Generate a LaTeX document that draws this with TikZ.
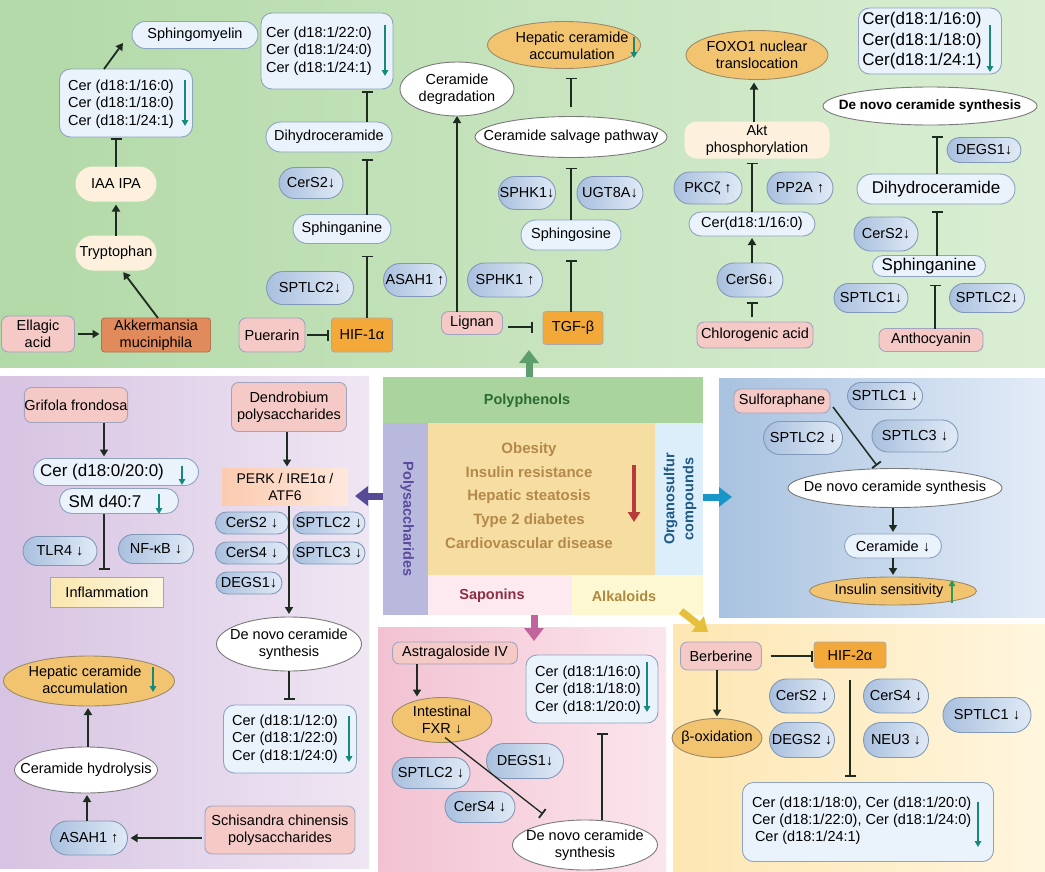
\documentclass[tikz,border=0pt]{standalone}
\usepackage{fontspec}
\setmainfont{Liberation Sans}
\usetikzlibrary{arrows.meta,shapes.misc,shapes.geometric,calc}
\newcommand{\fsn}{\fontsize{14.5}{17.5}\selectfont}
\newcommand{\fst}{\fontsize{14.5}{16.5}\selectfont}
\newcommand{\fsl}{\fontsize{17}{20.5}\selectfont}
\newcommand{\fsbd}{\bfseries\fontsize{14.5}{17.5}\selectfont}
\definecolor{lc}{HTML}{1E2B20}
\definecolor{gL}{HTML}{B2D9A7}\definecolor{gR}{HTML}{DAEED3}
\definecolor{puL}{HTML}{D7C3E2}\definecolor{puR}{HTML}{EFE6F3}
\definecolor{blL}{HTML}{A8C2DF}\definecolor{blR}{HTML}{E3ECF8}
\definecolor{pkL}{HTML}{F2C2D2}\definecolor{pkR}{HTML}{FBE5ED}
\definecolor{yeL}{HTML}{FDE6B2}\definecolor{yeR}{HTML}{FFF6DE}
\definecolor{lboxc}{HTML}{EAF2FB}\definecolor{bordc}{HTML}{8DA3C1}
\definecolor{enzl}{HTML}{A9C0DE}\definecolor{enzr}{HTML}{E0EAF6}\definecolor{enzd}{HTML}{8298B8}
\definecolor{srcc}{HTML}{F4C9C6}\definecolor{srcd}{HTML}{A2A4BF}
\definecolor{oellc}{HTML}{F3C46F}\definecolor{oelld}{HTML}{9C8B6B}
\definecolor{wd}{HTML}{7A7A7A}
\definecolor{orc}{HTML}{F2A93A}\definecolor{ord}{HTML}{A9A9A9}
\definecolor{akkc}{HTML}{E18A5C}\definecolor{akkd}{HTML}{B27254}
\definecolor{creamc}{HTML}{FDF1DE}
\definecolor{tealc}{HTML}{17897B}
\definecolor{pphc}{HTML}{A9D49D}\definecolor{pphT}{HTML}{2D6B34}
\definecolor{psac}{HTML}{B9B9DE}\definecolor{psaT}{HTML}{5A4B9C}
\definecolor{disc}{HTML}{F6DEA3}\definecolor{disT}{HTML}{B5884B}
\definecolor{oscc}{HTML}{DCEEFA}\definecolor{oscT}{HTML}{1E5A85}
\definecolor{sapc}{HTML}{FDE9F0}\definecolor{sapT}{HTML}{8C2F42}
\definecolor{alkc}{HTML}{FDF8D2}\definecolor{alkT}{HTML}{AD8A3E}
\definecolor{redc}{HTML}{B83A3A}
\definecolor{gA}{HTML}{5E9E6E}\definecolor{puA}{HTML}{574A96}
\definecolor{blA}{HTML}{1996C8}\definecolor{pkA}{HTML}{C2649C}
\definecolor{yeA}{HTML}{E6BF3C}
\definecolor{inflL}{HTML}{FBE7AE}\definecolor{inflR}{HTML}{FDF7E0}
\definecolor{perkL}{HTML}{FBCBB0}\definecolor{perkR}{HTML}{FDE8DC}
\definecolor{upg}{HTML}{2A9A5A}
\begin{document}
\begin{tikzpicture}[x=1pt,y=-1pt,
  base/.style={inner sep=0pt,outer sep=0pt,align=center,font=\fsn,text=black},
  sz/.style 2 args={minimum width=#1pt,minimum height=#2pt},
  lbox/.style={base,rectangle,rounded corners=11pt,draw=bordc,fill=lboxc,line width=0.9pt},
  lpill/.style={base,rounded rectangle,draw=bordc,fill=lboxc,line width=0.9pt},
  enz/.style={base,rounded rectangle,draw=enzd,left color=enzl,right color=enzr,line width=0.9pt},
  src/.style={base,rectangle,rounded corners=7pt,draw=srcd,fill=srcc,line width=0.9pt},
  oell/.style={base,ellipse,draw=oelld,fill=oellc,line width=0.9pt},
  well/.style={base,ellipse,draw=wd,fill=white,line width=0.9pt},
  orect/.style={base,rectangle,rounded corners=3pt,draw=ord,fill=orc,line width=0.9pt},
  creamp/.style={base,rounded rectangle,fill=creamc},
  compart/.style={base,rectangle,draw=none},
  arr/.style={draw=lc,line width=1.8pt,-{Triangle[width=8pt,length=7pt]}},
  inh/.style={draw=lc,line width=1.8pt,-{Bar[width=11pt,line width=1.8pt]}},
  tarr/.style={draw=tealc,line width=1.6pt,-{Triangle[width=6.5pt,length=6pt]}},
  big/.style={line width=7pt,-{Triangle[width=19pt,length=13pt]}},
  ctext/.style={base,font=\fsbd},
]
\useasboundingbox (0,0) rectangle (1045,871);
\fill[white] (0,0) rectangle (1045,871);

% ---------- panels ----------
\fill[left color=gL,right color=gR] (0,0) rectangle (1045,367);
\fill[left color=puL,right color=puR] (0,376) rectangle (369,868);
\fill[left color=blL,right color=blR] (719,378) rectangle (1045,617);
\fill[left color=pkL,right color=pkR] (378,627) rectangle (666,871);
\fill[left color=yeL,right color=yeR] (673,624) rectangle (1045,871);

% ---------- top panel ----------
\node[lpill,sz={126}{27}] (sm) at (195,35) {Sphingomyelin};
\node[lbox,sz={133}{68}] (c1) at (126,103) {};
\node[base,align=left] at (121,104) {Cer (d18:1/16:0)\\Cer (d18:1/18:0)\\Cer (d18:1/24:1)};
\draw[tarr] (185,80) -- (185,126);
\node[creamp,sz={81}{35}] (iaa) at (116,184) {IAA IPA};
\node[creamp,sz={81}{35}] (tryp) at (116,253) {Tryptophan};
\node[base,rectangle,rounded corners=3pt,draw=akkd,fill=akkc,line width=0.9pt,sz={109}{34},font=\fst] (akk) at (156,335) {Akkermansia\\muciniphila};
\node[src,sz={73}{36},font=\fst] (ell) at (38,334) {Ellagic\\acid};

\node[lbox,sz={132}{76}] (cer2) at (327,51) {};
\node[base,align=left] at (319,51) {Cer (d18:1/22:0)\\Cer (d18:1/24:0)\\Cer (d18:1/24:1)};
\draw[tarr] (385,25) -- (385,76);
\node[lpill,sz={126}{30}] (dh1) at (329,137) {Dihydroceramide};
\node[enz,sz={64}{31}] (cers2a) at (311,183) {CerS2↓};
\node[lpill,sz={98}{29}] (sph1) at (342,229) {Sphinganine};
\node[enz,sz={87}{33}] (sptlc2a) at (310,288) {SPTLC2↓};
\node[orect,sz={61}{34}] (hif1) at (362,335) {HIF-1α};
\node[src,sz={66}{34}] (pue) at (272,335) {Puerarin};
\node[enz,sz={63}{33}] (asah1a) at (415,280) {ASAH1 ↑};

\node[well,sz={114}{54}] (cdeg) at (457,89) {};
\node[base] at (cdeg) {Ceramide\\degradation};
\node[src,sz={61}{23}] (lig) at (472,323) {Lignan};
\node[enz,sz={75}{34}] (sphk1a) at (505,280) {SPHK1 ↑};
\node[orect,sz={60}{33}] (tgf) at (573,328) {TGF-β};
\node[lpill,sz={100}{30}] (sgo) at (571,235) {Sphingosine};
\node[enz,sz={57}{33}] (sphk1b) at (527,193) {SPHK1↓};
\node[enz,sz={66}{33}] (ugt) at (610,193) {UGT8A↓};
\node[well,sz={192}{41}] (salv) at (571,137) {};
\node[base] at (salv) {Ceramide salvage pathway};
\node[oell,sz={153}{47}] (hep1) at (564,45) {};
\node[base] at (572,46) {Hepatic ceramide\\accumulation};
\draw[tarr] (634,37) -- (634,58);

\node[oell,sz={142}{49}] (foxo) at (757,55) {};
\node[base] at (foxo) {FOXO1 nuclear\\translocation};
\node[base,rectangle,rounded corners=12pt,fill=creamc,sz={145}{37}] (akt) at (757,140) {Akt\\phosphorylation};
\node[enz,sz={68}{32}] (pkc) at (708,188) {PKCζ ↑};
\node[enz,sz={66}{32}] (pp2a) at (800,188) {PP2A ↑};
\node[lpill,sz={126}{24}] (c16) at (752,224) {Cer(d18:1/16:0)};
\node[enz,sz={66}{34}] (cers6) at (750,280) {CerS6↓};
\node[src,sz={116}{26}] (chl) at (755,335) {Chlorogenic acid};

\node[lbox,sz={143}{66}] (c3) at (930,41) {};
\node[base,align=left,font=\fsl] at (922,41) {Cer(d18:1/16:0)\\Cer(d18:1/18:0)\\Cer(d18:1/24:1)};
\draw[tarr] (990,25) -- (990,72);
\node[well,sz={214}{38}] (dn1) at (930,106) {};
\node[base,font=\bfseries\fontsize{13.5}{16}\selectfont] at (dn1) {De novo ceramide synthesis};
\node[enz,sz={74}{25}] (degs1a) at (984,150) {DEGS1↓};
\node[lpill,sz={158}{30},font=\fsl] (dh2) at (936,189) {Dihydroceramide};
\node[enz,sz={64}{34}] (cers2b) at (886,234) {CerS2↓};
\node[lpill,sz={113}{21},font=\fsl] (sph2) at (929,266) {Sphinganine};
\node[enz,sz={74}{29}] (sptlc1a) at (871,298) {SPTLC1↓};
\node[enz,sz={75}{29}] (sptlc2b) at (987,298) {SPTLC2↓};
\node[src,sz={104}{23}] (ant) at (931,340) {Anthocyanin};

% top connectors
\draw[arr] ([xshift=-22pt]c1.north) -- ([xshift=-9pt,yshift=-8pt]sm.west);
\draw[inh,shorten >=1pt] (iaa.north) -- (iaa.north |- c1.south);
\draw[arr,shorten >=3pt] (tryp.north) -- (iaa.south);
\draw[arr,shorten >=2pt] ([xshift=2pt]akk.north) -- ([xshift=6pt]tryp.south);
\draw[arr,shorten <=3pt,shorten >=2pt] (ell.east) -- (ell.east -| akk.west);
\draw[inh,shorten <=2pt,shorten >=3pt] (pue.east) -- (hif1.west);
\draw[inh,shorten >=12pt] ([xshift=5pt]hif1.north) -- ([xshift=25pt]sph1.south);
\draw[inh,shorten >=7pt] ([xshift=25pt]sph1.north) -- ([xshift=38pt]dh1.south);
\draw[inh,shorten >=2pt] ([xshift=38pt]dh1.north) -- ([xshift=40pt]cer2.south);
\draw[arr] ([xshift=-15pt]lig.north) -- (cdeg.south);
\draw[inh,shorten <=5pt,shorten >=10pt] ([yshift=-4pt]lig.east) -- ([yshift=1pt]tgf.west);
\draw[inh,shorten >=10pt] ([xshift=-2pt]tgf.north) -- (sgo.south);
\draw[inh,shorten >=10pt] (sgo.north) -- (salv.south);
\draw[inh,shorten <=10pt,shorten >=9pt] (salv.north) -- ([xshift=7pt]hep1.south);
\draw[arr,shorten >=3pt] ([xshift=-3pt]akt.north) -- ([xshift=-3pt]foxo.south);
\draw[inh,shorten >=4pt] (c16.north) -- ([xshift=-5pt]akt.south);
\draw[arr,shorten >=2pt] ([xshift=2pt]cers6.north) -- (c16.south);
\draw[inh,shorten <=5pt,shorten >=5pt] ([xshift=-3pt]chl.north) -- ([xshift=2pt]cers6.south);
\draw[inh,shorten >=11pt] ([xshift=1pt]dh2.north) -- ([xshift=7pt]dn1.south);
\draw[inh,shorten >=7pt] ([xshift=8pt]sph2.north) -- ([xshift=1pt]dh2.south);
\draw[inh,shorten >=8pt] ([xshift=4pt]ant.north) -- ([xshift=6pt]sph2.south);

% ---------- left panel ----------
\node[src,sz={82}{35}] (grif) at (76,405) {Grifola frondosa};
\node[lpill,sz={165}{27}] (c020) at (116,472) {};
\node[base,font=\fsl] at (102,472) {Cer (d18:0/20:0)};
\draw[tarr] (182,466) -- (182,485);
\node[lpill,sz={119}{25}] (sm407) at (119,501) {};
\node[base,font=\fsl] at (105,501) {SM d40:7};
\draw[tarr] (159,494) -- (159,514);
\node[enz,sz={74}{29}] (tlr4) at (60,551) {TLR4 ↓};
\node[enz,sz={75}{29}] (nfkb) at (156,549) {NF-κB ↓};
\node[base,rectangle,draw=srcd,left color=inflL,right color=inflR,line width=0.9pt,sz={113}{30}] (infl) at (107,592) {Inflammation};
\node[src,sz={115}{49}] (dend) at (289,407) {Dendrobium\\polysaccharides};
\node[base,rectangle,left color=perkL,right color=perkR,sz={126}{37},font=\fontsize{14}{17}\selectfont] (perk) at (285,487) {PERK / IRE1α /\\ATF6};
\node[enz,sz={73}{22}] (cers2c) at (252,523) {CerS2 ↓};
\node[enz,sz={72}{22}] (sptlc2c) at (329,523) {SPTLC2 ↓};
\node[enz,sz={73}{22}] (cers4c) at (252,553) {CerS4 ↓};
\node[enz,sz={72}{22}] (sptlc3c) at (329,553) {SPTLC3 ↓};
\node[enz,sz={66}{22}] (degs1c) at (249,583) {DEGS1↓};
\node[well,sz={145}{54}] (dnL) at (289,644) {};
\node[base] at (dnL) {De novo ceramide\\synthesis};
\node[lbox,sz={133}{68}] (cL) at (290,739) {};
\node[base,align=left] at (285,739) {Cer (d18:1/12:0)\\Cer (d18:1/22:0)\\Cer (d18:1/24:0)};
\draw[tarr] (349,716) -- (349,762);
\node[oell,sz={171}{50}] (hepL) at (89,681) {};
\node[base] at (85,680) {Hepatic ceramide\\accumulation};
\draw[tarr] (153,667) -- (153,692);
\node[well,sz={143}{46}] (hyd) at (86,770) {};
\node[base] at (hyd) {Ceramide hydrolysis};
\node[enz,sz={77}{34}] (asahL) at (89,838) {ASAH1 ↑};
\node[src,sz={150}{48}] (sch) at (280,830) {Schisandra chinensis\\polysaccharides};

\draw[arr,shorten >=2pt] ([xshift=28pt]grif.south) -- ([xshift=-12pt]c020.north);
\draw[inh,shorten >=7pt] ([xshift=-15pt]sm407.south) -- ([xshift=-3pt]infl.north);
\draw[arr,shorten >=2pt] ([xshift=-2pt]dend.south) -- ([xshift=2pt]perk.north);
\draw[arr,shorten >=3pt] ([xshift=4pt]perk.south) -- (dnL.north);
\draw[inh,shorten >=5pt] (dnL.south) -- ([xshift=-1pt]cL.north);
\draw[arr,shorten >=2pt] ([xshift=2pt]hyd.north) -- ([xshift=-1pt]hepL.south);
\draw[arr,shorten >=2pt] ([xshift=-2pt]asahL.north) -- ([xshift=1pt]hyd.south);
\draw[arr,shorten <=3pt,shorten >=3pt] (asahL.east -| sch.west) -- (asahL.east);

% ---------- center ----------
\node[compart,fill=pphc,sz={320}{46}] (pph) at (543,400) {};
\node[compart,fill=psac,sz={45}{192}] (psa) at (405.5,519) {};
\node[compart,fill=disc,sz={227}{152}] (dis) at (541.5,499) {};
\node[compart,fill=oscc,sz={48}{152}] (osc) at (679,499) {};
\node[compart,fill=sapc,sz={144}{40}] (sap) at (500,595) {};
\node[compart,fill=alkc,sz={131}{40}] (alk) at (637.5,595) {};
\node[ctext,text=pphT] at (527,401) {Polyphenols};
\node[ctext,text=psaT,rotate=-90] at (407,519) {Polysaccharides};
\node[ctext,text=oscT,rotate=90,font=\bfseries\fontsize{14.5}{19}\selectfont] at (680,499) {Organosulfur\\compounds};
\node[ctext,text=disT,font=\bfseries\fontsize{15}{23.75}\selectfont] at (529,495.5) {Obesity\\Insulin resistance\\Hepatic steatosis\\Type 2 diabetes\\Cardiovascular disease};
\draw[draw=redc,line width=4pt,-{Triangle[width=12pt,length=10pt]}] (634,465) -- (634,522);
\node[ctext,text=sapT] at (492,596) {Saponins};
\node[ctext,text=alkT] at (624,596) {Alkaloids};

\coordinate (gtip) at (529,350);
\coordinate (ptip) at (355,496);
\coordinate (btip) at (732,497);
\coordinate (ktip) at (534,641);
\coordinate (ytip) at (708,632);
\draw[big,draw=gA,fill=gA] (pph.north -| gtip) -- (gtip);
\draw[big,draw=puA,fill=puA] (psa.west |- ptip) -- (ptip);
\draw[big,draw=blA,fill=blA] (osc.east |- btip) -- (btip);
\draw[big,draw=pkA,fill=pkA] (sap.south -| ktip) -- (ktip);
\draw[big,draw=yeA,fill=yeA] ([xshift=-22pt,yshift=4pt]alk.south east) -- (ytip);

% ---------- right blue panel ----------
\node[src,sz={96}{24}] (sulf) at (782,401) {Sulforaphane};
\node[enz,sz={75}{27}] (sptlc1r) at (885,396) {SPTLC1 ↓};
\node[enz,sz={79}{33}] (sptlc2r) at (803,438) {SPTLC2 ↓};
\node[enz,sz={86}{32}] (sptlc3r) at (915,436) {SPTLC3 ↓};
\node[well,sz={214}{39}] (dnR) at (895,488) {};
\node[base] at (dnR) {De novo ceramide synthesis};
\node[lpill,sz={97}{24}] (cerR) at (893,546) {Ceramide ↓};
\node[oell,sz={167}{28}] (ins) at (893,591) {};
\node[base] at (889,591) {Insulin sensitivity};
\draw[draw=upg,line width=1.6pt,-{Triangle[width=6.5pt,length=6pt]}] (952,603) -- (952,580);

\draw[inh,line width=1.5pt,shorten >=0pt] ([xshift=3pt,yshift=-6pt]sulf.east) -- ([xshift=-18pt,yshift=3pt]dnR.north);
\draw[arr,shorten >=2pt] ([xshift=-2pt]dnR.south) -- (cerR.north);
\draw[arr,shorten >=2pt] (cerR.south) -- (ins.north);

% ---------- bottom center pink ----------
\node[src,sz={125}{22}] (astr) at (455,653) {Astragaloside IV};
\node[oell,sz={100}{45}] (fxr) at (442,720) {};
\node[base] at (fxr) {Intestinal\\FXR ↓};
\node[enz,sz={77}{35}] (degs1b) at (525,761) {DEGS1↓};
\node[enz,sz={78}{31}] (sptlc2d) at (431,773) {SPTLC2 ↓};
\node[enz,sz={70}{31}] (cers4d) at (480,807) {CerS4 ↓};
\node[well,sz={145}{50}] (dnB) at (585,845) {};
\node[base] at (dnB) {De novo ceramide\\synthesis};
\node[lbox,sz={132}{68}] (cB) at (592,689) {};
\node[base,align=left] at (588,690) {Cer (d18:1/16:0)\\Cer (d18:1/18:0)\\Cer (d18:1/20:0)};
\draw[tarr] (647,662) -- (647,712);

\draw[arr,shorten >=1pt] ([xshift=-38pt]astr.south) -- ([xshift=-25pt]fxr.north);
\draw[inh,line width=1.3pt] ([xshift=3pt,yshift=5pt]fxr.south) -- ([xshift=-42pt,yshift=6pt]dnB.north);
\draw[inh,line width=1.3pt,shorten >=10pt] ([xshift=17pt]dnB.north) -- ([xshift=10pt]cB.south);

% ---------- bottom right yellow ----------
\node[src,sz={81}{28}] (berb) at (721,656) {Berberine};
\node[orect,sz={72}{26}] (hif2) at (850,655) {HIF-2α};
\node[oell,sz={90}{39}] (boxid) at (717,738) {};
\node[base] at (boxid) {β-oxidation};
\node[enz,sz={65}{34}] (cers2e) at (802,696) {CerS2 ↓};
\node[enz,sz={65}{35}] (degs2) at (802,740) {DEGS2 ↓};
\node[enz,sz={65}{34}] (cers4e) at (896,696) {CerS4 ↓};
\node[enz,sz={65}{35}] (neu3) at (896,740) {NEU3 ↓};
\node[enz,sz={88}{35}] (sptlc1e) at (987,715) {SPTLC1 ↓};
\node[lbox,sz={251}{79}] (cBR) at (868,822) {};
\node[base,align=left,anchor=west,font=\fontsize{14.5}{17}\selectfont] at (752,821) {Cer (d18:1/18:0), Cer (d18:1/20:0)\\Cer (d18:1/22:0), Cer (d18:1/24:0)\\\hspace{3pt}Cer (d18:1/24:1)};
\draw[tarr] (978,802) -- (978,847);

\draw[inh,line width=1.3pt,shorten <=9pt,shorten >=1pt] (berb.east) -- (berb.east -| hif2.west);
\draw[arr,shorten >=2pt] ([xshift=-4pt]berb.south) -- (boxid.north);
\draw[inh,line width=1.5pt,shorten <=12pt,shorten >=6pt] (hif2.south) -- ([xshift=-18pt]cBR.north);
\end{tikzpicture}
\end{document}
